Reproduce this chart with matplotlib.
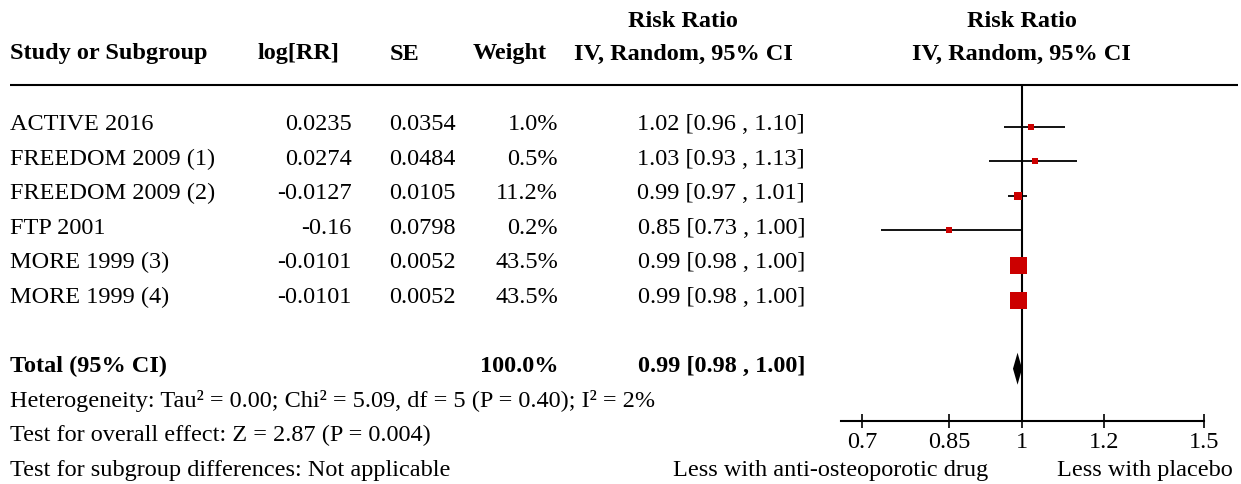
import numpy as np
import matplotlib
matplotlib.use("Agg")
import matplotlib.pyplot as plt

plt.rcParams['font.family'] = ['Liberation Serif', 'DejaVu Serif']

studies = ["ACTIVE 2016", "FREEDOM 2009 (1)", "FREEDOM 2009 (2)", "FTP 2001",
           "MORE 1999 (3)", "MORE 1999 (4)"]
log_rr = ["0.0235", "0.0274", "-0.0127", "-0.16", "-0.0101", "-0.0101"]
se = ["0.0354", "0.0484", "0.0105", "0.0798", "0.0052", "0.0052"]
weight = [1.0, 0.5, 11.2, 0.2, 43.5, 43.5]
rr = [1.02, 1.03, 0.99, 0.85, 0.99, 0.99]
ci_lo = [0.96, 0.93, 0.97, 0.73, 0.98, 0.98]
ci_hi = [1.10, 1.13, 1.01, 1.00, 1.00, 1.00]

total_rr, total_lo, total_hi = 0.99, 0.98, 1.00
total_weight = 100.0
het_text = "Heterogeneity: Tau² = 0.00; Chi² = 5.09, df = 5 (P = 0.40); I² = 2%"
overall_text = "Test for overall effect: Z = 2.87 (P = 0.004)"
subgroup_text = "Test for subgroup differences: Not applicable"
xticks = [0.7, 0.85, 1, 1.2, 1.5]
xtick_labels = ["0.7", "0.85", "1", "1.2", "1.5"]
left_label = "Less with anti-osteoporotic drug"
right_label = "Less with placebo"

W, H = 1241, 485
fs = 17.45
red = "#cc0000"

fig = plt.figure(figsize=(W / 100, H / 100), dpi=100)

# overlay axes in pixel coordinates for the table part
ax = fig.add_axes([0, 0, 1, 1])
ax.set_xlim(0, W)
ax.set_ylim(H, 0)
ax.axis("off")

row0, step = 122, 34.6
base = 8  # baseline offset from row centre (px)


def row_y(k):
    return row0 + step * k


# headers
hb = dict(fontsize=fs, fontweight="bold", va="baseline")
ax.text(10, 59.5, "Study or Subgroup", ha="left", **hb)
ax.text(258, 59.5, "log[RR]", ha="left", **hb)
ax.text(390, 59.5, "SE", ha="left", **hb)
ax.text(473, 59.5, "Weight", ha="left", **hb)
ax.text(683, 26.7, "Risk Ratio", ha="center", **hb)
ax.text(683, 59.5, "IV, Random, 95% CI", ha="center", **hb)
ax.text(1021.5, 26.7, "Risk Ratio", ha="center", **hb)
ax.text(1021.5, 59.5, "IV, Random, 95% CI", ha="center", **hb)
ax.plot([10, 1238], [86, 86], color="black", lw=1.5, solid_capstyle="butt")

for i, name in enumerate(studies):
    y = row_y(i) + base
    ax.text(10, y, name, fontsize=fs, va="baseline", ha="left")
    ax.text(352, y, log_rr[i], fontsize=fs, va="baseline", ha="right")
    ax.text(456, y, se[i], fontsize=fs, va="baseline", ha="right")
    ax.text(558, y, f"{weight[i]:.1f}%", fontsize=fs, va="baseline", ha="right")
    ax.text(805, y, f"{rr[i]:.2f} [{ci_lo[i]:.2f} , {ci_hi[i]:.2f}]",
            fontsize=fs, va="baseline", ha="right")

y = row_y(7) + base
ax.text(10, y, "Total (95% CI)", ha="left", **hb)
ax.text(558, y, f"{total_weight:.1f}%", ha="right", **hb)
ax.text(805, y, f"{total_rr:.2f} [{total_lo:.2f} , {total_hi:.2f}]", ha="right", **hb)
ax.text(10, row_y(8) + base, het_text, fontsize=fs, va="baseline", ha="left")
ax.text(10, row_y(9) + base, overall_text, fontsize=fs, va="baseline", ha="left")
ax.text(10, row_y(10) + base, subgroup_text, fontsize=fs, va="baseline", ha="left")
ax.text(1021 - 33, row_y(10) + base, left_label, fontsize=fs, va="baseline", ha="right")
ax.text(1021 + 36, row_y(10) + base, right_label, fontsize=fs, va="baseline", ha="left")

# forest plot axes
x0, x1, ytop, ybot = 841, 1204, 86, 422
fx = fig.add_axes([x0 / W, (H - ybot) / H, (x1 - x0) / W, (ybot - ytop) / H])
fx.set_xscale("log")
fx.set_xlim(0.668, 1.5)
fx.set_ylim(ybot, ytop)
fx.patch.set_alpha(0)
for s in ["top", "left", "right"]:
    fx.spines[s].set_visible(False)
fx.spines["bottom"].set_linewidth(1.5)
fx.set_yticks([])
fx.set_xticks(xticks)
fx.set_xticklabels(xtick_labels, fontsize=fs)
fx.xaxis.set_minor_locator(matplotlib.ticker.NullLocator())
fx.tick_params(axis="x", direction="inout", length=9.5, width=1.2, pad=2.5)
fx.axvline(1, color="black", lw=1.5)

off = 5.5
for i in range(len(studies)):
    y = row_y(i) + off
    fx.plot([ci_lo[i], ci_hi[i]], [y, y], color="black", lw=1.3, solid_capstyle="butt")
    side = 5.3 + 11.7 * weight[i] / 43.5
    fx.plot(rr[i], y, marker="s", color=red, markersize=side * 0.72, markeredgewidth=0)

y = row_y(7) + off
dh = 16
fx.fill([total_lo, total_rr, total_hi, total_rr], [y, y - dh, y, y + dh],
        color="black", lw=0)

fig.savefig("out.png", dpi=100)
